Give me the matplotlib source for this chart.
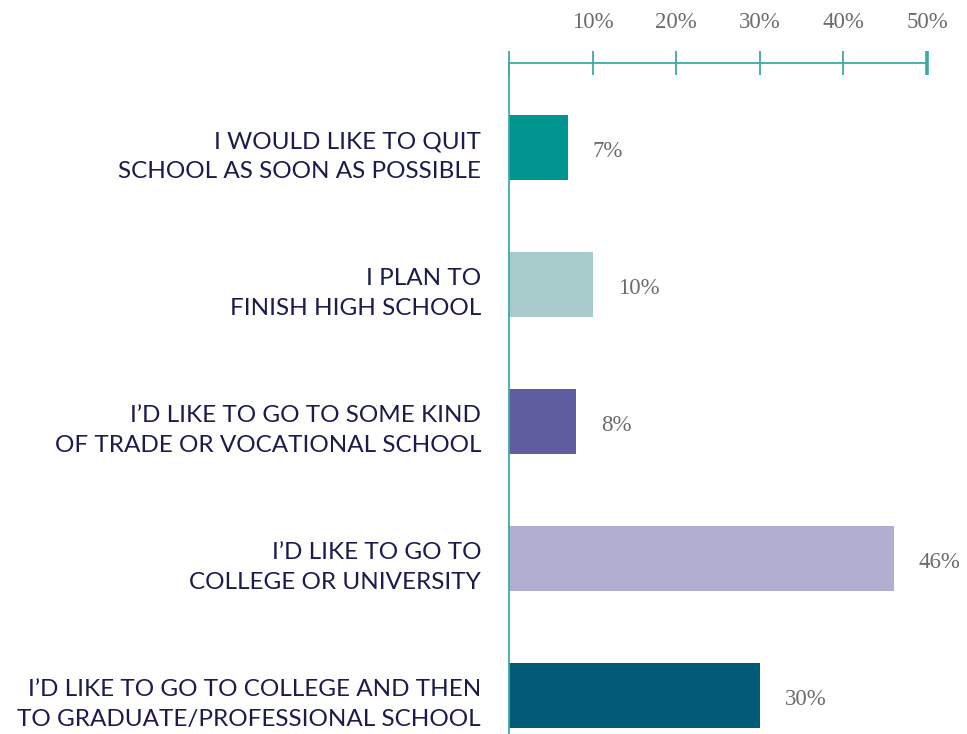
import matplotlib.pyplot as plt

categories = [
    "I WOULD LIKE TO QUIT\nSCHOOL AS SOON AS POSSIBLE",
    "I PLAN TO\nFINISH HIGH SCHOOL",
    "I\u2019D LIKE TO GO TO SOME KIND\nOF TRADE OR VOCATIONAL SCHOOL",
    "I\u2019D LIKE TO GO TO\nCOLLEGE OR UNIVERSITY",
    "I\u2019D LIKE TO GO TO COLLEGE AND THEN\nTO GRADUATE/PROFESSIONAL SCHOOL",
]
values = [7, 10, 8, 46, 30]
tick_values = [10, 20, 30, 40, 50]
tick_labels = ["10%", "20%", "30%", "40%", "50%"]
colors = ["#00968f", "#a8cbcb", "#5e5da0", "#b2aed2", "#005a78"]

axis_color = "#3aaba4"
label_color = "#1b1b4d"
num_color = "#6b6b6b"

fig = plt.figure(figsize=(9.67, 7.34), dpi=100)
ax = fig.add_axes([509 / 967, 0, 418 / 967, (734 - 63) / 734])

ypos = list(range(len(values)))
ax.barh(ypos, values, height=65 / 137, color=colors)

ax.set_xlim(0, 50)
ax.set_ylim((734 - 147.5) / 137, (63 - 147.5) / 137)

for s in ["right", "bottom"]:
    ax.spines[s].set_visible(False)
ax.spines["top"].set_color(axis_color)
ax.spines["left"].set_color(axis_color)
ax.spines["top"].set_linewidth(1.3)
ax.spines["left"].set_linewidth(1.3)

ax.xaxis.tick_top()
ax.set_xticks([0] + tick_values)
ax.set_xticklabels([""] + tick_labels, family="Liberation Serif", fontsize=16.5,
                   color=num_color)
ax.tick_params(axis="x", direction="inout", length=17, width=1.3,
               color=axis_color, pad=13)
ax.xaxis.get_major_ticks()[-1].tick2line.set_markeredgewidth(2.6)
ax.set_yticks([])

for y, v, lab in zip(ypos, values, categories):
    ax.text(-28 / 8.36, y + 9 / 137, lab, ha="right", va="center",
            fontsize=17.5, family="Lato", color=label_color, linespacing=1.5)
    ax.text(v + 25 / 8.36, y + 4 / 137, f"{v}%", ha="left", va="center",
            fontsize=16.5, family="Liberation Serif", color=num_color)

fig.savefig("out.png", dpi=100)
